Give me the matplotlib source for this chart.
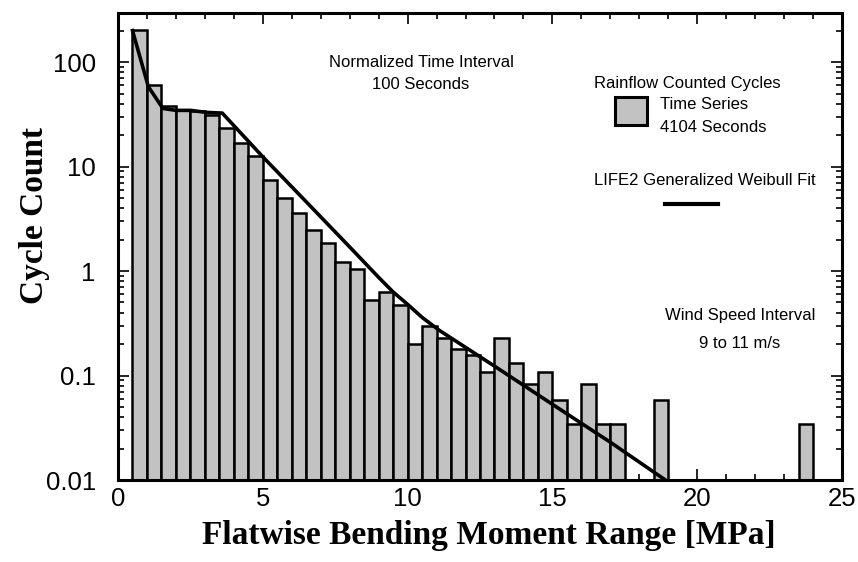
import matplotlib
matplotlib.use('Agg')
import matplotlib.pyplot as plt
from matplotlib.patches import Rectangle
from matplotlib.lines import Line2D
from matplotlib.ticker import LogLocator, MultipleLocator, FixedFormatter, FixedLocator

# rainflow counted cycles, 0.5 MPa bins (left edges), normalized to 100 s
bin_left = [0.5, 1.0, 1.5, 2.0, 2.5, 3.0, 3.5, 4.0, 4.5, 5.0,
            5.5, 6.0, 6.5, 7.0, 7.5, 8.0, 8.5, 9.0, 9.5, 10.0,
            10.5, 11.0, 11.5, 12.0, 12.5, 13.0, 13.5, 14.0, 14.5, 15.0,
            15.5, 16.0, 16.5, 17.0, 18.5, 23.5]
cycles = [203, 60, 38, 34.5, 34, 31, 23.2, 16.7, 12.6, 7.4,
          4.97, 3.57, 2.47, 1.84, 1.21, 1.04, 0.52, 0.625, 0.46, 0.19,
          0.29, 0.22, 0.168, 0.148, 0.098, 0.22, 0.121, 0.073, 0.097, 0.0487,
          0.0244, 0.073, 0.0244, 0.0244, 0.0487, 0.0244]
bin_width = 0.5

# LIFE2 generalized Weibull fit
fit_x = [0.5, 1.05, 1.55, 2.0, 2.5, 3.05, 3.6, 5.0, 6.5, 8.0, 9.0, 9.5,
         10.0, 10.5, 11.1, 13.0, 15.0, 17.0, 18.9]
fit_y = [200, 58, 36, 34.5, 34.5, 33, 32.5, 12.4, 4.6, 1.7, 0.87, 0.63,
         0.48, 0.36, 0.27, 0.123, 0.053, 0.023, 0.01]

fig = plt.figure(figsize=(8.58, 5.62), dpi=100)
ax = fig.add_axes([118 / 858, 82 / 562, 724 / 858, 467 / 562])

ax.bar(bin_left, cycles, width=bin_width, align='edge', bottom=0.01,
       color='#c2c2c2', edgecolor='black', linewidth=1.8, zorder=2)
ax.plot(fit_x, fit_y, color='black', linewidth=2.6, zorder=3,
        solid_joinstyle='round')

ax.set_yscale('log')
ax.set_xlim(0, 25)
ax.set_ylim(0.01, 295)

ax.xaxis.set_major_locator(MultipleLocator(5))
ax.xaxis.set_minor_locator(MultipleLocator(1))
ax.yaxis.set_major_locator(FixedLocator([0.01, 0.1, 1, 10, 100]))
ax.yaxis.set_major_formatter(FixedFormatter(['0.01', '0.1', '1', '10', '100']))
ax.yaxis.set_minor_locator(LogLocator(base=10, subs=range(2, 10)))

ax.tick_params(which='both', direction='in', top=True, right=True, width=1.2)
ax.tick_params(which='major', length=8, labelsize=18.5)
ax.tick_params(axis='x', which='major', pad=5)
ax.tick_params(axis='y', which='major', pad=16)
ax.tick_params(which='minor', length=4)
for lab in ax.get_xticklabels() + ax.get_yticklabels():
    lab.set_family('Liberation Sans')
for sp in ax.spines.values():
    sp.set_linewidth(2.2)

lab_font = dict(family='Liberation Serif', weight='bold', size=24)
ax.set_xlabel('Flatwise Bending Moment Range [MPa]', labelpad=6, **lab_font)
ax.set_ylabel('Cycle Count', labelpad=8, **lab_font)
ax.xaxis.set_label_coords(0.512, -0.085)
ax.yaxis.set_label_coords(-0.094, 0.567)

txt = dict(family='Liberation Sans', size=12, transform=ax.transAxes, va='center')
ax.text(0.4185, 0.895, 'Normalized Time Interval', ha='center', **txt)
ax.text(0.4185, 0.846, '100 Seconds', ha='center', **txt)
ax.text(0.786, 0.850, 'Rainflow Counted Cycles', ha='center', **txt)
ax.text(0.749, 0.803, 'Time Series', ha='left', **txt)
ax.text(0.749, 0.754, '4104 Seconds', ha='left', **txt)
ax.text(0.811, 0.642, 'LIFE2 Generalized Weibull Fit', ha='center', **txt)
ax.text(0.859, 0.353, 'Wind Speed Interval', ha='center', **txt)
ax.text(0.859, 0.293, '9 to 11 m/s', ha='center', **txt)

ax.add_patch(Rectangle((0.6865, 0.760), 0.0442, 0.060, transform=ax.transAxes,
                       facecolor='#c2c2c2', edgecolor='black', linewidth=2.2))
ax.add_line(Line2D([0.7555, 0.8287], [0.591, 0.591], transform=ax.transAxes,
                   color='black', linewidth=3))

fig.savefig('out.png', dpi=100)
